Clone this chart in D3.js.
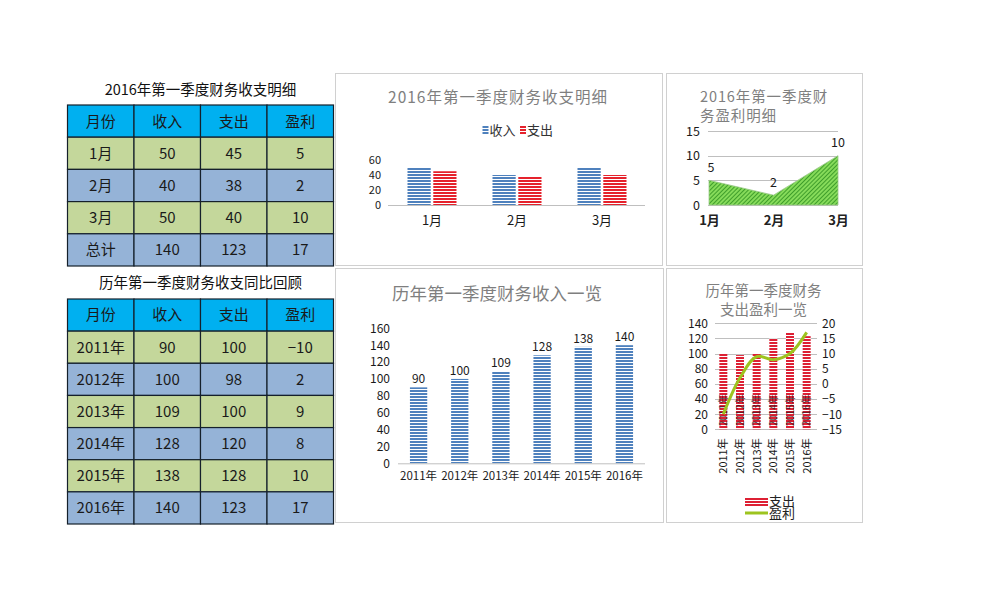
<!DOCTYPE html>
<html><head><meta charset="utf-8">
<script src="https://cdn.jsdelivr.net/npm/d3@7"></script>
<style>
body{margin:0;background:#fff}
svg{display:block}
text{font-family:"Noto Sans CJK SC","Liberation Sans",sans-serif}
</style>
</head><body>
<svg id="c" width="997" height="615"></svg>
<script>
// ---------------- data ----------------
const tableHeaders = ['月份','收入','支出','盈利'];
const months = ['1月','2月','3月'];
const income2016 = [50,40,50];
const expense2016 = [45,38,40];
const profit2016 = [5,2,10];
const totalLabel = '总计';
const total2016 = [140,123,17];
const years = ['2011年','2012年','2013年','2014年','2015年','2016年'];
const incomeYears = [90,100,109,128,138,140];
const expenseYears = [100,98,100,120,128,123];
const profitYears = [-10,2,9,8,10,17];
const ticks1 = [0,20,40,60];
const ticks2 = [0,5,10,15];
const ticks3 = [0,20,40,60,80,100,120,140,160];
const ticks4L = [0,20,40,60,80,100,120,140];
const ticks4R = [-15,-10,-5,0,5,10,15,20];
const series1 = ['收入','支出'];
const series4 = ['支出','盈利'];

const title1 = '2016年第一季度财务收支明细';
const title2 = '历年第一季度财务收支同比回顾';
const chartTitle1 = '2016年第一季度财务收支明细';
const chartTitle2 = ['2016年第一季度财','务盈利明细'];
const chartTitle3 = '历年第一季度财务收入一览';
const chartTitle4 = ['历年第一季度财务','支出盈利一览'];

// ---------------- setup ----------------
const svg = d3.select('#c');
svg.append('rect').attr('width',997).attr('height',615).attr('fill','#fff');
const defs = svg.append('defs');
function hStripe(id, color){
  const p = defs.append('pattern').attr('id',id).attr('patternUnits','userSpaceOnUse')
    .attr('width',4).attr('height',3);
  p.append('rect').attr('width',4).attr('height',3).attr('fill','#fff');
  p.append('rect').attr('width',4).attr('height',2).attr('fill',color);
}
hStripe('hBlue','#4F81BD');
hStripe('hRed','#E5222C');
hStripe('hRed2','#DD2034');
const dg = defs.append('pattern').attr('id','dGreen').attr('patternUnits','userSpaceOnUse')
  .attr('width',3).attr('height',3).attr('patternTransform','rotate(45)');
dg.append('rect').attr('width',3).attr('height',3).attr('fill','#86DB5A');
dg.append('line').attr('x1',0.5).attr('y1',0).attr('x2',0.5).attr('y2',3).attr('stroke','#3F9E2B').attr('stroke-width',1);

const tickColor = '#1a1a1a';
const gridColor = '#BFBFBF';
const titleColor = '#7F7F7F';

// ---------------- tables ----------------
const headerFill = '#00B0F0', greenFill = '#C4D79B', blueFill = '#95B3D7';
function drawTable(rows, x0, x1, y0, y1, title, titleY){
  const g = svg.append('g');
  const cx = d3.scaleBand().domain(d3.range(4)).range([x0,x1]);
  const ry = d3.scaleBand().domain(d3.range(rows.length)).range([y0,y1]);
  g.append('text').attr('x',(x0+x1)/2).attr('y',titleY).attr('dy','0.35em')
    .attr('text-anchor','middle').attr('font-size',14.5).attr('fill','#111').text(title);
  rows.forEach((r,i)=>{
    const fill = i===0 ? headerFill : (i%2===1 ? greenFill : blueFill);
    r.forEach((v,j)=>{
      g.append('rect').attr('x',cx(j)).attr('y',ry(i)).attr('width',cx.bandwidth()).attr('height',ry.bandwidth())
        .attr('fill',fill).attr('stroke','#15202b').attr('stroke-width',1.2);
      g.append('text').attr('x',cx(j)+cx.bandwidth()/2).attr('y',ry(i)+ry.bandwidth()/2).attr('dy','0.36em')
        .attr('text-anchor','middle').attr('font-size',15).attr('fill','#1a1a1a').text(v);
    });
  });
}
const rowsT1 = [tableHeaders].concat(months.map((m,i)=>[m,income2016[i],expense2016[i],profit2016[i]]))
  .concat([[totalLabel].concat(total2016)]);
drawTable(rowsT1, 67.5, 333.5, 105, 266, title1, 90);
const rowsT2 = [tableHeaders].concat(years.map((y,i)=>[y,incomeYears[i],expenseYears[i],profitYears[i] < 0 ? '−'+Math.abs(profitYears[i]) : profitYears[i]]));
drawTable(rowsT2, 67.5, 333.5, 299, 524, title2, 283);

// ---------------- panels ----------------
function panel(x,y,w,h){
  svg.append('rect').attr('x',x+0.5).attr('y',y+0.5).attr('width',w).attr('height',h)
    .attr('fill','#fff').attr('stroke','#D0D0D0').attr('stroke-width',1);
}
panel(335,73,327,192);
panel(666,73,196,192);
panel(335,268,328,254);
panel(666,268,196,254);

function styleAxis(g, size){
  g.select('.domain').remove();
  g.selectAll('.tick line').remove();
  g.selectAll('.tick text').attr('font-size',size).attr('fill',tickColor)
    .attr('font-family','"Noto Sans CJK SC","Liberation Sans",sans-serif');
}

// ---------------- chart 1 ----------------
{
  const g = svg.append('g');
  g.append('text').attr('x',498).attr('y',98).attr('dy','0.35em').attr('text-anchor','middle')
    .attr('font-size',15.5).attr('letter-spacing',1).attr('fill',titleColor).text(chartTitle1);
  const x0 = d3.scaleBand().domain(months).range([389.5,644.5]);
  const x1 = d3.scaleBand().domain(series1).range([x0.bandwidth()/2-24.5, x0.bandwidth()/2+24.5]).paddingInner(0.1);
  const y = d3.scaleLinear().domain([0,60]).range([205,160]);
  const ya = g.append('g').attr('transform','translate(385,0)').call(d3.axisLeft(y).tickValues(ticks1).tickSize(0).tickPadding(4));
  styleAxis(ya, 11);
  g.append('line').attr('x1',388).attr('x2',645).attr('y1',y(0)+0.5).attr('y2',y(0)+0.5).attr('stroke',gridColor);
  const vals = [income2016, expense2016];
  const fills = ['url(#hBlue)','url(#hRed)'];
  series1.forEach((s,si)=>{
    g.selectAll(null).data(months).enter().append('rect')
      .attr('x',m=>x0(m)+x1(s)).attr('width',x1.bandwidth())
      .attr('y',(m,i)=>y(vals[si][i])).attr('height',(m,i)=>y(0)-y(vals[si][i]))
      .attr('fill',fills[si]);
  });
  const xa = g.append('g').attr('transform',`translate(0,${y(0)})`).call(d3.axisBottom(x0).tickSize(0).tickPadding(11));
  styleAxis(xa, 13);
  // legend
  const lg = g.append('g');
  const lx = [482.5, 520];
  series1.forEach((s,i)=>{
    lg.append('rect').attr('x',lx[i]).attr('y',126).attr('width',6).attr('height',8).attr('fill',fills[i]);
    lg.append('text').attr('x',lx[i]+7).attr('y',130).attr('dy','0.35em').attr('font-size',13).attr('fill','#333').text(s);
  });
}

// ---------------- chart 2 ----------------
{
  const g = svg.append('g');
  chartTitle2.forEach((t,i)=>{
    g.append('text').attr('x',700).attr('y',97+i*19).attr('dy','0.35em').attr('font-size',14.5)
      .attr('letter-spacing',0.9).attr('fill',titleColor).text(t);
  });
  const x = d3.scalePoint().domain(months).range([709,838]);
  const y = d3.scaleLinear().domain([0,15]).range([205,131]);
  g.selectAll(null).data(ticks2).enter().append('line')
    .attr('x1',708).attr('x2',838).attr('y1',d=>Math.round(y(d))+0.5).attr('y2',d=>Math.round(y(d))+0.5)
    .attr('stroke',gridColor);
  const area = d3.area().x((d,i)=>x(months[i])).y0(y(0)).y1(d=>y(d));
  g.append('path').datum(profit2016).attr('d',area).attr('fill','url(#dGreen)').attr('stroke','#9cc98a').attr('stroke-width',0.8);
  const ya = g.append('g').attr('transform','translate(704,0)').call(d3.axisLeft(y).tickValues(ticks2).tickSize(0).tickPadding(4));
  styleAxis(ya, 12.5);
  const xa = g.append('g').attr('transform',`translate(0,${y(0)})`).call(d3.axisBottom(x).tickSize(0).tickPadding(11));
  styleAxis(xa, 13);
  xa.selectAll('.tick text').attr('font-weight','bold').attr('fill','#222');
  g.selectAll(null).data(profit2016).enter().append('text')
    .attr('x',(d,i)=>x(months[i])+(i===0?2:0)).attr('y',d=>y(d)-13).attr('dy','0.35em')
    .attr('text-anchor','middle').attr('font-size',12.5).attr('fill',tickColor).text(d=>d);
}

// ---------------- chart 3 ----------------
{
  const g = svg.append('g');
  g.append('text').attr('x',497).attr('y',293.5).attr('dy','0.35em').attr('text-anchor','middle')
    .attr('font-size',17.5).attr('fill',titleColor).text(chartTitle3);
  const x = d3.scaleBand().domain(years).range([398,645]).paddingInner(0.58).paddingOuter(0.29);
  const y = d3.scaleLinear().domain([0,160]).range([463.3,328.3]);
  const ya = g.append('g').attr('transform','translate(394,0)').call(d3.axisLeft(y).tickValues(ticks3).tickSize(0).tickPadding(4));
  styleAxis(ya, 12);
  g.selectAll(null).data(incomeYears).enter().append('rect')
    .attr('x',(d,i)=>x(years[i])).attr('width',x.bandwidth())
    .attr('y',d=>y(d)).attr('height',d=>y(0)-y(d)).attr('fill','url(#hBlue)');
  g.append('line').attr('x1',398).attr('x2',645).attr('y1',y(0)+0.5).attr('y2',y(0)+0.5).attr('stroke',gridColor);
  g.selectAll(null).data(incomeYears).enter().append('text')
    .attr('x',(d,i)=>x(years[i])+x.bandwidth()/2).attr('y',d=>y(d)-4)
    .attr('text-anchor','middle').attr('font-size',12).attr('fill',tickColor).text(d=>d);
  const xa = g.append('g').attr('transform',`translate(0,${y(0)})`).call(d3.axisBottom(x).tickSize(0).tickPadding(9));
  styleAxis(xa, 11.5);
}

// ---------------- chart 4 ----------------
{
  const g = svg.append('g');
  chartTitle4.forEach((t,i)=>{
    g.append('text').attr('x',763.5).attr('y',291+i*19).attr('dy','0.35em').attr('text-anchor','middle')
      .attr('font-size',14.5).attr('fill',titleColor).text(t);
  });
  const x = d3.scaleBand().domain(years).range([715,815]).paddingInner(0.52).paddingOuter(0.26);
  const yL = d3.scaleLinear().domain([0,140]).range([429.3,323.3]);
  const yR = d3.scaleLinear().domain([-15,20]).range([429.3,323.3]);
  g.selectAll(null).data(ticks4L).enter().append('line')
    .attr('x1',715).attr('x2',817).attr('y1',d=>Math.round(yL(d))+0.5).attr('y2',d=>Math.round(yL(d))+0.5)
    .attr('stroke',gridColor);
  g.selectAll(null).data(expenseYears).enter().append('rect')
    .attr('x',(d,i)=>x(years[i])).attr('width',x.bandwidth())
    .attr('y',d=>yL(d)).attr('height',d=>yL(0)-yL(d)).attr('fill','url(#hRed2)');
  // in-bar rotated labels
  g.selectAll(null).data(years).enter().append('text')
    .attr('transform',d=>`translate(${x(d)+x.bandwidth()/2+3.5},${yL(0)-3}) rotate(-90)`)
    .attr('font-size',10).attr('fill','#3a1a20').attr('opacity',0.85).text(d=>d);
  const line = d3.line().x((d,i)=>x(years[i])+x.bandwidth()/2).y(d=>yR(d)).curve(d3.curveCatmullRom.alpha(0.5));
  g.append('path').datum(profitYears).attr('d',line).attr('fill','none').attr('stroke','#9DC41F').attr('stroke-width',3);
  const ya = g.append('g').attr('transform','translate(712,0)').call(d3.axisLeft(yL).tickValues(ticks4L).tickSize(0).tickPadding(4));
  styleAxis(ya, 12);
  const yr = g.append('g').attr('transform','translate(818,0)').call(d3.axisRight(yR).tickValues(ticks4R).tickSize(0).tickPadding(4)
    .tickFormat(d=>d<0?'−'+Math.abs(d):d));
  styleAxis(yr, 12);
  const xa = g.append('g').attr('transform',`translate(0,${yL(0)})`).call(d3.axisBottom(x).tickSize(0));
  styleAxis(xa, 11);
  xa.selectAll('.tick text').attr('transform','rotate(-90)').attr('text-anchor','end')
    .attr('x',-9).attr('y',0).attr('dy','0.35em');
  // legend
  g.append('rect').attr('x',745).attr('y',498).attr('width',23).attr('height',9).attr('fill','url(#hRed2)');
  g.append('line').attr('x1',745).attr('x2',768).attr('y1',513).attr('y2',513).attr('stroke','#9DC41F').attr('stroke-width',3);
  g.append('text').attr('x',769).attr('y',501.5).attr('dy','0.35em').attr('font-size',13).attr('fill','#222').text(series4[0]);
  g.append('text').attr('x',769).attr('y',513).attr('dy','0.35em').attr('font-size',13).attr('fill','#222').text(series4[1]);
}
</script>
</body></html>
